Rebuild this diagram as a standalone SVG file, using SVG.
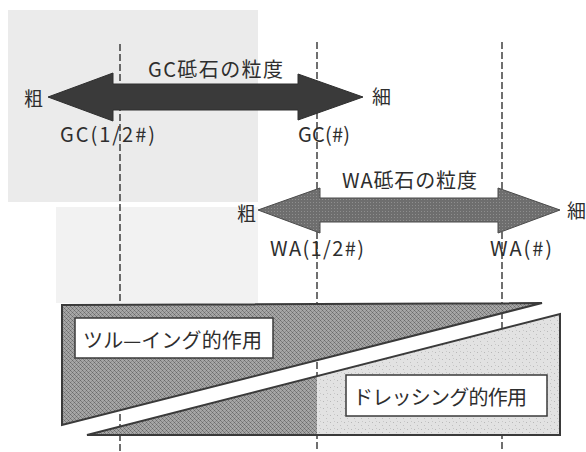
<svg xmlns="http://www.w3.org/2000/svg" width="586" height="452" viewBox="0 0 586 452">
<style>
  .t { font-family: "Noto Sans CJK JP", "Noto Sans", sans-serif; fill: #2e2e2e; }
  .guide { stroke: #333; stroke-width: 1.4; stroke-dasharray: 7 3; fill: none; }
  .edge { stroke: #3a3a3a; stroke-width: 2; stroke-linejoin: miter; }
  .box { fill: #ffffff; stroke: #3a3a3a; stroke-width: 1.5; }
</style>
<defs>
  <pattern id="hatch" width="4" height="4" patternUnits="userSpaceOnUse">
    <rect width="4" height="4" fill="#a6a6a6"/>
    <rect x="0" y="0" width="1" height="1" fill="#6a6a6a"/>
    <rect x="2" y="2" width="1" height="1" fill="#6a6a6a"/>
    <rect x="1" y="1" width="1" height="1" fill="#7e7e7e"/>
    <rect x="3" y="3" width="1" height="1" fill="#7e7e7e"/>
    <rect x="1" y="3" width="1" height="1" fill="#8c8c8c"/>
    <rect x="3" y="1" width="1" height="1" fill="#8c8c8c"/>
  </pattern>
  <pattern id="stipple" width="7" height="7" patternUnits="userSpaceOnUse">
    <rect width="7" height="7" fill="#e2e2e2"/>
    <rect x="1" y="2" width="1" height="1" fill="#b8b8b8"/>
    <rect x="4" y="5" width="1" height="1" fill="#c0c0c0"/>
    <rect x="5" y="1" width="1" height="1" fill="#c8c8c8"/>
  </pattern>
  <pattern id="waTex" width="3" height="3" patternUnits="userSpaceOnUse">
    <rect width="3" height="3" fill="#6e6e6e"/>
    <rect x="1" y="1" width="1" height="1" fill="#8e8e8e"/>
  </pattern>
</defs>

<rect width="586" height="452" fill="#ffffff"/>
<g id="background">
  <rect x="8" y="10" width="250" height="192" fill="#ebebeb"/>
  <rect x="56" y="207" width="202" height="96" fill="#f2f2f2"/>
</g>

<g id="connectors">
  <line class="guide" x1="120" y1="44" x2="120" y2="452"/>
  <line class="guide" x1="317" y1="42" x2="317" y2="452"/>
  <line class="guide" x1="502" y1="42" x2="502" y2="452"/>
</g>

<g id="gc-arrow">
  <polygon points="48,97 113,73 113,84 298,84 298,74 363,97 298,120 298,110 113,110 113,121" fill="#3a3a3a" stroke="#2e2e2e" stroke-width="1"/>
  <text class="t" x="148" y="77" font-size="20" textLength="135" lengthAdjust="spacing">GC砥石の粒度</text>
  <text class="t" x="24" y="106" font-size="19">粗</text>
  <text class="t" x="372" y="104" font-size="19">細</text>
  <text class="t" x="60" y="142" font-size="20" textLength="95" lengthAdjust="spacing">GC(1/2#)</text>
  <text class="t" x="298" y="142" font-size="20" textLength="52" lengthAdjust="spacing">GC(#)</text>
</g>

<g id="wa-arrow">
  <polygon points="258,210 320,188 320,198 498,198 498,188 560,210 498,233 498,222 320,222 320,233" fill="url(#waTex)" stroke="#4a4a4a" stroke-width="1"/>
  <text class="t" x="342" y="188" font-size="20" textLength="135" lengthAdjust="spacing">WA砥石の粒度</text>
  <text class="t" x="237" y="221" font-size="19">粗</text>
  <text class="t" x="567" y="218" font-size="19">細</text>
  <text class="t" x="270" y="256" font-size="20" textLength="94" lengthAdjust="spacing">WA(1/2#)</text>
  <text class="t" x="490" y="256" font-size="20" textLength="62" lengthAdjust="spacing">WA(#)</text>
</g>

<g id="tooling">
  <polygon class="edge" points="62,305 542,303 62,425" fill="url(#hatch)"/>
  <rect class="box" x="75" y="318" width="198" height="40"/>
  <text class="t" x="83" y="348" font-size="20" textLength="179" lengthAdjust="spacing">ツル—イング的作用</text>
</g>

<g id="dressing">
  <polygon points="87,435 317,376 317,435" fill="url(#hatch)"/>
  <polygon points="317,376 560,314 560,435 317,435" fill="url(#stipple)"/>
  <polygon class="edge" points="87,435 560,314 560,435" fill="none"/>
  <rect class="box" x="346" y="375" width="201" height="41"/>
  <text class="t" x="353" y="405" font-size="20" textLength="174" lengthAdjust="spacing">ドレッシング的作用</text>
</g>
</svg>
